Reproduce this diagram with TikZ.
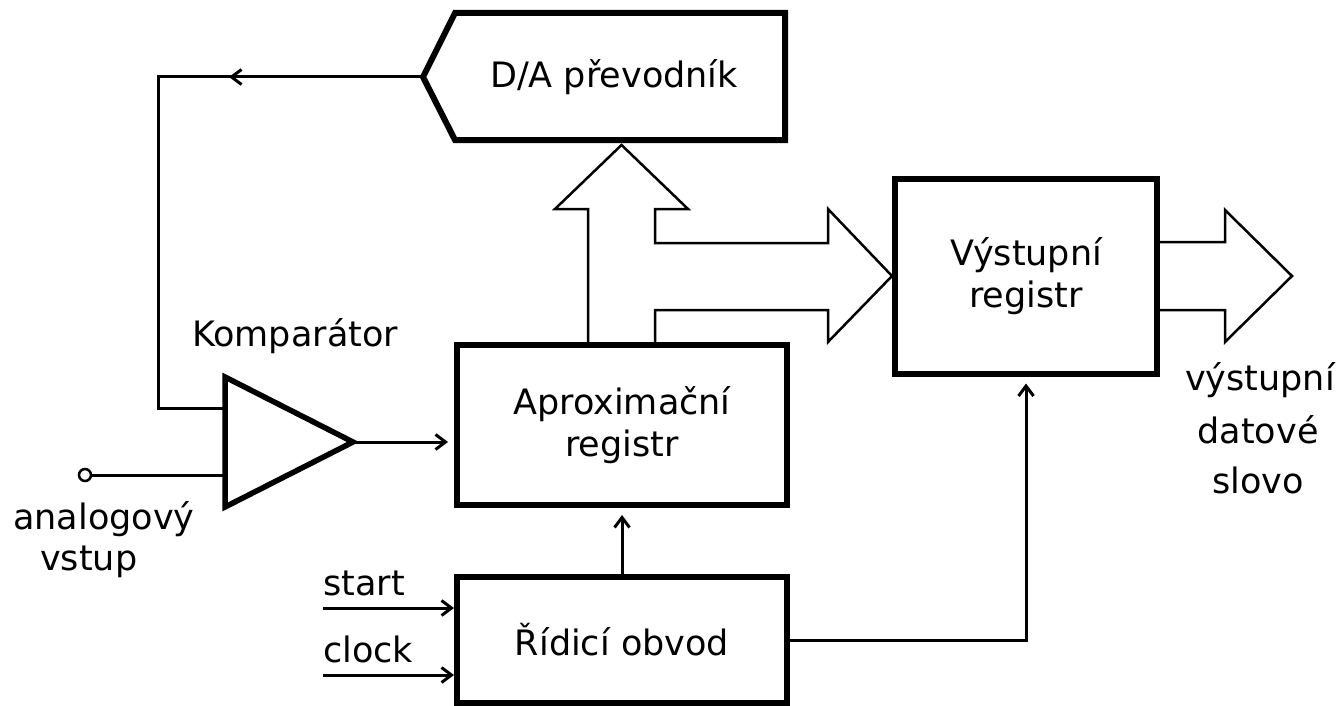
\documentclass[tikz,border=0pt]{standalone}
\usepackage{fontspec}
\setmainfont{DejaVu Sans}
\usetikzlibrary{arrows.meta,decorations.markings}
\begin{document}
\begin{tikzpicture}[x=1pt,y=-1pt,
  font=\fontsize{35}{42}\selectfont,
  box/.style={draw, line width=6pt, minimum width=330pt, align=center, inner sep=0pt},
  wire/.style={line width=3pt},
  smalltip/.style={-{Straight Barb[length=10pt,width=15pt]}},
  hollow/.style={line width=2.5pt, line join=miter},
  lbl/.style={anchor=base west, inner sep=0pt},
  clbl/.style={anchor=base, inner sep=0pt}
]
\useasboundingbox (0,0) rectangle (1340,706);

% blocks
\node[box, minimum height=160pt] (apx) at (622,425) {Aproximační\\registr};
\node[box, minimum height=126pt] (ctl) at (622,640) {Řídicí obvod};
\node[box, minimum width=262pt, minimum height=195pt] (outr) at (1026,276) {Výstupní\\registr};

% D/A converter
\coordinate (datip) at (423,77);
\draw[line width=6pt, line join=miter] (455,13) -- (785,13) -- (785,140) -- (455,140) -- (datip) -- cycle;
\node (da) at (614,77) {D/A převodník};

% comparator
\coordinate (cin1) at (225,408);
\coordinate (cin2) at (225,475);
\coordinate (cout) at (353,442);
\draw[line width=5.5pt, line join=miter] (225,377) -- (cout) -- (225,507) -- cycle;
\node[lbl] (komp) at (192,346) {Komparátor};

% analog input
\node[draw, circle, line width=2.5pt, minimum size=12pt, inner sep=0pt] (ain) at (85,475) {};
\draw[wire] (ain) -- (cin2);
\node[lbl] (anl1) at (13,529) {analogový};
\node[lbl] (anl2) at (40,570) {vstup};

% comparator -> approximation register
\draw[wire, smalltip, shorten >=6pt] (cout) -- (apx.west |- cout);

% feedback from D/A to comparator
\draw[wire, postaction=decorate,
  decoration={markings, mark=at position 194pt with {\arrow{Straight Barb[length=10pt,width=15pt]}}}]
  (datip) -- (158,77) -- (158,408) -- (cin1);

% hollow bus arrows
\draw[hollow] (588,345) -- (588,209) -- (555,209) -- (621.5,145) -- (688,209) -- (655,209)
  -- (655,243) -- (828,243) -- (828,209) -- (892,276) -- (828,342) -- (828,310) -- (655,310) -- (655,345);
\draw[hollow] (1160,242) -- (1225,242) -- (1225,210) -- (1292,276) -- (1225,342) -- (1225,310) -- (1160,310);

% output label
\node[clbl] (ol1) at (1260,390) {výstupní};
\node[clbl] (ol2) at (1258,443) {datové};
\node[clbl] (ol3) at (1258,493) {slovo};

% control inputs
\coordinate (st) at (323,608);
\coordinate (cl) at (323,675);
\draw[wire, smalltip] (st) -- (ctl.west |- st);
\draw[wire, smalltip] (cl) -- (ctl.west |- cl);
\node[lbl] (stl) at (323,595) {start};
\node[lbl] (cll) at (323,662) {clock};

% control connections
\draw[wire, smalltip, shorten >=7pt] (ctl.north) -- (apx.south);
\draw[wire, smalltip, shorten >=7pt] (ctl.east) -| (outr.south);
\end{tikzpicture}
\end{document}
